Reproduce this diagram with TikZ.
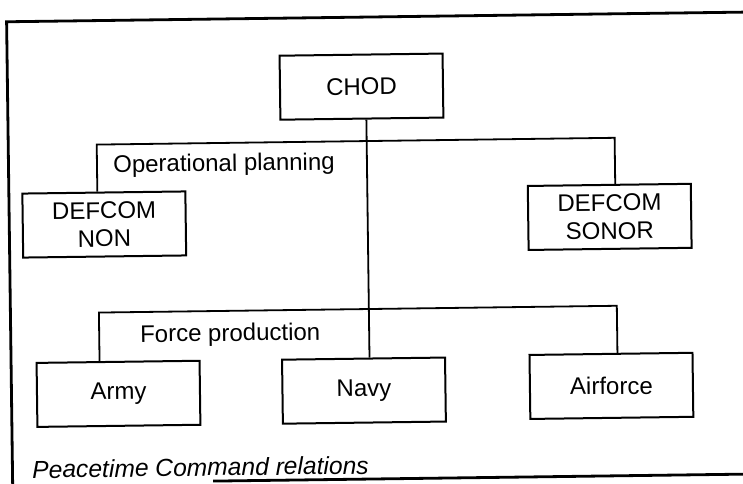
\documentclass[tikz,border=0pt]{standalone}
\usepackage{fontspec}
\setmainfont{Liberation Sans}
\usepackage{tikz}

\begin{document}
\begin{tikzpicture}[
    x=0.5pt, y=-0.5pt,
    font=\fontsize{12}{14}\selectfont,
    box/.style={draw, line width=1pt, align=center, minimum width=81.5pt, minimum height=32pt, inner sep=0pt},
    link/.style={line width=0.9pt},
    frame/.style={line width=1.4pt},
    bartext/.style={inner sep=0pt}
  ]
    \useasboundingbox (0,0) rectangle (743,483);
    \begin{scope}[rotate around={0.75:(371.5,241.5)}, transform shape]
    \node[box] (chod) at (363.5,86.5) {CHOD};
    \node[box] (defnon) at (104.5,221) {DEFCOM\\NON};
    \node[box] (defsonor) at (610,220) {DEFCOM\\SONOR};
    \node[box] (army) at (116.5,390.5) {Army};
    \node[box] (navy) at (362,390.5) {Navy};
    \node[box] (airforce) at (609.5,389) {Airforce};

    \coordinate (opleft) at (98,141);
    \coordinate (opright) at (616,141);
    \coordinate (fpleft) at (98,309);
    \coordinate (fpright) at (616,309);
    \coordinate (spine) at (368,141);

    \node[bartext] (optext) at (225,163) {Operational planning};
    \node[bartext] (fptext) at (229,333) {Force production};
    \node[bartext, anchor=west, font=\fontsize{12.3}{14}\selectfont\itshape] (caption) at (29,465) {Peacetime Command relations};

    % chains of command
    \draw[link] (chod.south -| spine) -- (navy.north -| spine);
    \draw[link] (defnon.north -| opleft) -- (opleft) -- (opright) -- (defsonor.north -| opright);
    \draw[link] (army.north -| fpleft) -- (fpleft) -- (fpright) -- (airforce.north -| fpright);

    % surrounding frame
    \draw[frame] (9.5,490) -- (9.5,17) -- (760,17);
    \draw[frame] (210,479) -- (760,479);
    \end{scope}
  \end{tikzpicture}
\end{document}
